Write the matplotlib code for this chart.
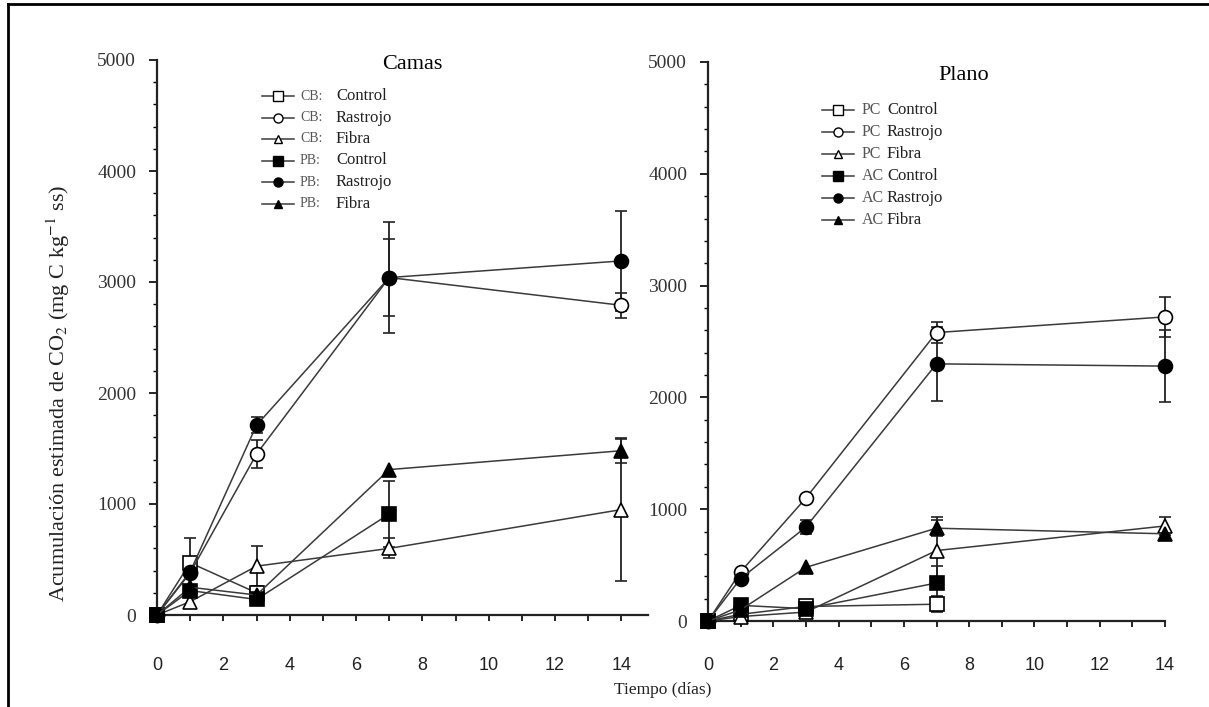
import numpy as np
import matplotlib
matplotlib.use('Agg')
import matplotlib.pyplot as plt
from matplotlib.lines import Line2D
from matplotlib.ticker import MultipleLocator

W, H = 1209, 707
nan = np.nan

days = [0, 1, 3, 7, 14]
tratamientos = ['Control', 'Rastrojo', 'Fibra']

# Camas (mg C kg-1 ss)
cb_control = [0, 470, 200]
cb_control_err = [nan, 220, nan]
cb_rastrojo = [0, 380, 1450, 3040, 2790]
cb_rastrojo_err = [nan, nan, 130, 350, 110]
cb_fibra = [0, 120, 440, 600, 950]
cb_fibra_err = [nan, nan, 180, 90, 640]
pb_control = [0, 220, 140, 910]
pb_control_err = [nan, nan, nan, 300]
pb_rastrojo = [0, 390, 1710, 3040, 3190]
pb_rastrojo_err = [nan, nan, 70, 500, 450]
pb_fibra = [0, 250, 180, 1310, 1480]
pb_fibra_err = [nan, nan, nan, nan, 115]

# Plano
pc_control = [0, 60, 130, 150]
pc_control_err = [nan, nan, nan, 70]
pc_rastrojo = [0, 440, 1100, 2580, 2720]
pc_rastrojo_err = [nan, nan, nan, 90, 180]
pc_fibra = [0, 40, 80, 630, 850]
pc_fibra_err = [nan, nan, nan, 300, 80]
ac_control = [0, 140, 110, 340]
ac_control_err = [nan, nan, nan, 150]
ac_rastrojo = [0, 380, 840, 2300, 2280]
ac_rastrojo_err = [nan, nan, 60, 330, 320]
ac_fibra = [0, 100, 480, 830, 780]
ac_fibra_err = [nan, nan, nan, 70, nan]

plt.rcParams['mathtext.fontset'] = 'stix'
serif = ['Liberation Serif', 'DejaVu Serif']
sans = ['Liberation Sans', 'DejaVu Sans']
line_col = '#3a3a3a'

styles = [('s', 'white'), ('o', 'white'), ('^', 'white'),
          ('s', 'black'), ('o', 'black'), ('^', 'black')]
msizes = {'s': 9.5, 'o': 10, '^': 9.5}


def fig_xy(x, y):
    return x / W, 1 - y / H


def draw_series(ax, vals, errs, marker, face):
    n = len(vals)
    ax.errorbar(days[:n], vals, yerr=errs, color=line_col, lw=1.1,
                marker=marker, markersize=msizes[marker], markerfacecolor=face,
                markeredgecolor='black', markeredgewidth=1.2,
                ecolor='#222222', elinewidth=1.3, capsize=4, capthick=1.3,
                clip_on=False, zorder=3)


def style_axes(ax, xmax, xpad):
    ax.set_xlim(0, xmax)
    ax.set_ylim(0, 5000)
    for s in ['top', 'right']:
        ax.spines[s].set_visible(False)
    for s in ['left', 'bottom']:
        ax.spines[s].set_linewidth(1.6)
        ax.spines[s].set_color('#222222')
    ax.xaxis.set_major_locator(MultipleLocator(2))
    ax.xaxis.set_minor_locator(MultipleLocator(1))
    ax.yaxis.set_major_locator(MultipleLocator(1000))
    ax.yaxis.set_minor_locator(MultipleLocator(200))
    ax.tick_params(axis='y', which='major', direction='out', length=6,
                   width=1.2, pad=9, labelsize=14, labelcolor='#333333')
    ax.tick_params(axis='y', which='minor', direction='out', length=3, width=1)
    ax.tick_params(axis='x', which='both', direction='out', length=4,
                   width=1.2, pad=xpad, labelsize=13, labelcolor='#222222')
    for lab in ax.get_yticklabels():
        lab.set_family(serif)
    for lab in ax.get_xticklabels():
        lab.set_family(sans)


def draw_legend(x0, y0, dy, prefixes, names, pre_x, name_x, pre_size):
    for i, ((m, face), pre, name) in enumerate(zip(styles, prefixes, names)):
        y = y0 + i * dy
        xa, ya = fig_xy(x0, y)
        xb, _ = fig_xy(x0 + 32, y)
        fig.add_artist(Line2D([xa, xb], [ya, ya], color=line_col, lw=1.1))
        xm, _ = fig_xy(x0 + 16, y)
        fig.add_artist(Line2D([xm], [ya], marker=m, markersize=6.5 if m != '^' else 6,
                              markerfacecolor=face, markeredgecolor='black',
                              markeredgewidth=1.0, lw=0))
        fig.text(pre_x / W, ya, pre, family=serif, fontsize=pre_size,
                 color='#555555', va='center', ha='left')
        fig.text(name_x / W, ya, name, family=serif, fontsize=12,
                 color='#222222', va='center', ha='left')


fig = plt.figure(figsize=(W / 100, H / 100), dpi=100)

ax1 = fig.add_axes([157 / W, 92 / H, 491 / W, 555 / H])
ax2 = fig.add_axes([708 / W, 86 / H, 457 / W, 559 / H])

camas = [(cb_control, cb_control_err), (cb_rastrojo, cb_rastrojo_err),
         (cb_fibra, cb_fibra_err), (pb_control, pb_control_err),
         (pb_rastrojo, pb_rastrojo_err), (pb_fibra, pb_fibra_err)]
plano = [(pc_control, pc_control_err), (pc_rastrojo, pc_rastrojo_err),
         (pc_fibra, pc_fibra_err), (ac_control, ac_control_err),
         (ac_rastrojo, ac_rastrojo_err), (ac_fibra, ac_fibra_err)]

for (vals, errs), (m, face) in zip(camas, styles):
    draw_series(ax1, vals, errs, m, face)
for (vals, errs), (m, face) in zip(plano, styles):
    draw_series(ax2, vals, errs, m, face)

style_axes(ax1, 14.8, 26)
style_axes(ax2, 14, 22)

ax1.text(0.52, 0.992, 'Camas', transform=ax1.transAxes, ha='center',
         va='center', family=serif, fontsize=16)
ax2.text(0.56, 0.976, 'Plano', transform=ax2.transAxes, ha='center',
         va='center', family=serif, fontsize=16)

ax1.set_ylabel('Acumulación estimada de CO$_2$ (mg C kg$^{-1}$ ss)',
               family=serif, fontsize=16, color='#222222')
ax1.yaxis.set_label_coords(-0.173, 0.40)
fig.text(663 / W, 1 - 690 / H, 'Tiempo (días)', family=serif, fontsize=12.5,
         ha='center', va='center', color='#222222')

draw_legend(262, 96, 21.5, ['CB:'] * 3 + ['PB:'] * 3, tratamientos * 2,
            300, 336, 10)
draw_legend(822, 110, 22, ['PC'] * 3 + ['AC'] * 3, tratamientos * 2,
            862, 887, 11.5)

# outer frame
fig.add_artist(Line2D([8 / W, 8 / W], [0, 1 - 4 / H], color='black', lw=2))
fig.add_artist(Line2D([8 / W, 1], [1 - 4 / H, 1 - 4 / H], color='black', lw=2))

fig.savefig('out.png', dpi=100)
